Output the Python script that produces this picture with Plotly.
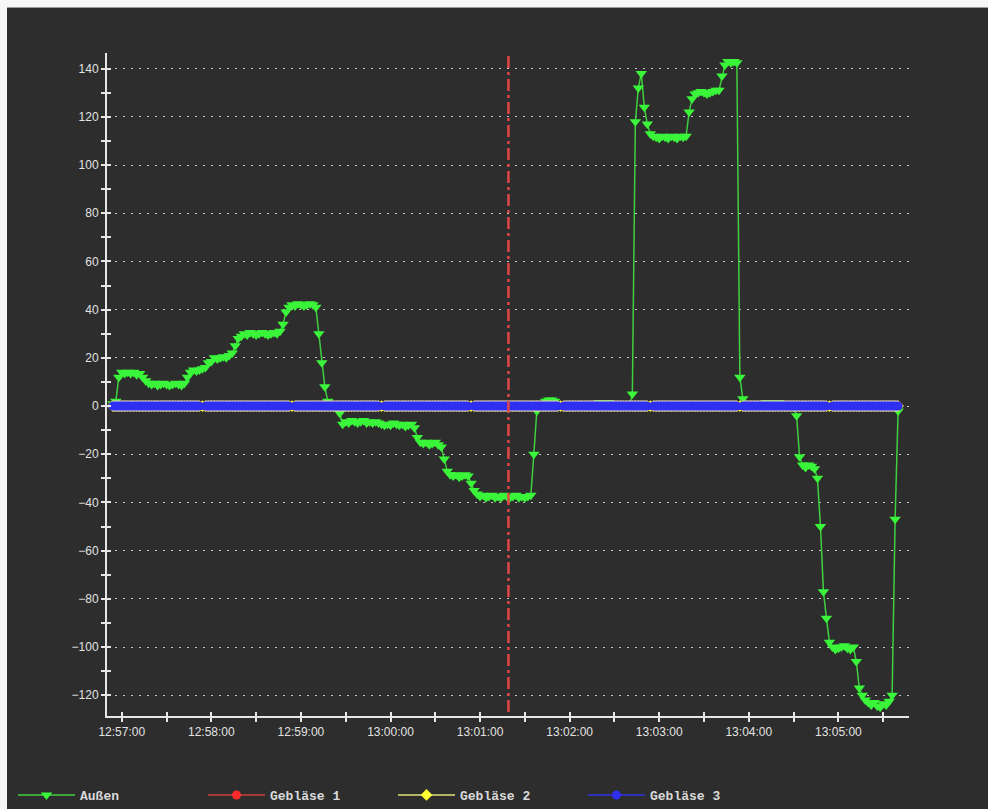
import pandas as pd
import plotly.graph_objects as go

# --- data -------------------------------------------------------------------
DAY = "2024-01-01"
START = "12:56:54"          # first sample
STEP = "2s"                 # logger sampling interval

# outside sensor (Außen), one value per sample
AUSSEN = [
    1, 2, 12, 14, 13.5, 14, 13.5, 14, 13, 13.5,
    12, 10.5, 9.5, 9, 9.5, 8.5, 9, 9.5, 9, 8.5,
    9, 9.5, 9, 8.5, 9.5, 12, 14, 15, 14.5, 15,
    15.5, 16, 18, 18.5, 20, 19.5, 20, 20.5, 20, 21,
    22, 25, 28, 29, 30, 29.5, 30.5, 30, 29.5, 30,
    30.5, 30, 29.5, 30, 30.5, 30, 31, 34, 39, 41,
    42, 41.5, 42.5, 42, 41.5, 42, 42.5, 42, 41, 30,
    18, 8, 2, 1, 0.5, 0, -3, -7.5, -6.5, -7,
    -6, -6.5, -7, -6.5, -6, -7, -6.5, -7, -6.5, -7,
    -7.5, -8, -7.5, -8, -7, -7.5, -8, -7.5, -8.5, -8,
    -7.5, -9, -13, -15, -15.5, -15, -16, -15.5, -15, -16,
    -17, -22, -27, -28.5, -29, -28.5, -29.5, -29, -28.5, -29,
    -32, -35, -36.5, -37.5, -37, -38, -37.5, -37, -38, -37.5,
    -38, -37, -37.5, -38, -37.5, -37, -38, -37.5, -38, -37.5,
    -37, -20, -2, 0, 1, 2, 2.5, 2.5, 2, 1,
    0.5, 0, 0.5, 0, 0, 0.5, 0, 0.5, 0, 0,
    0.5, 0, 1, 1.5, 1.5, 1, 1.5, 1, 0.5, 1,
    0.5, 0, 0.5, 0, 5, 118, 132, 138, 124, 117,
    113, 112, 111.5, 111, 112, 111.5, 111, 112, 111.5, 111,
    112, 111.5, 112, 122, 127.5, 129.5, 130, 130.5, 130, 129.5,
    130, 130.5, 131, 131, 137, 141.5, 143, 142.5, 143, 142.5,
    12, 3, 1, 0.5, 0, 0.5, 0, 0.5, 1, 1.5,
    1.5, 1.5, 1, 1.5, 1, 0.5, 0, 0.5, 0, -4,
    -21, -24.5, -25.5, -24.5, -25, -26, -30, -50, -77, -88,
    -98, -100, -101, -100.5, -100, -99.5, -100.5, -101, -100, -106,
    -117, -120, -122, -123, -124, -123, -124.5, -125, -123.5, -124,
    -122.5, -120, -47, -2,
]

# blowers were idle for the whole run
GEBLAESE_1 = [0.0] * len(AUSSEN)
GEBLAESE_2 = [0.0] * len(AUSSEN)
GEBLAESE_3 = [0.0] * len(AUSSEN)
# samples missing from the Gebläse 3 log (one per minute block)
GEBLAESE_3_GAPS = ["12:57:54", "12:58:54", "12:59:54", "13:00:54",
                   "13:01:54", "13:02:54", "13:03:54", "13:04:54"]

CURSOR_TIME = "13:01:19"
X_RANGE = ["12:56:50.1", "13:05:47.3"]
Y_RANGE = [-128.6, 146.5]
Y_TICKS = list(range(-120, 141, 20))

# --- figure -------------------------------------------------------------------
times = pd.date_range(f"{DAY} {START}", periods=len(AUSSEN), freq=STEP)
g3 = [None if ts.strftime("%H:%M:%S") in GEBLAESE_3_GAPS else v
      for ts, v in zip(times, GEBLAESE_3)]

W, H = 988, 809
L, R, T, B = 107, 79, 53, 93
PW, PH = W - L - R, H - T - B


def px(x):
    return (x - L) / PW


def py(y):
    return (H - B - y) / PH


BG = "#2d2d2d"
FG = "#e6e6e6"
TICKFONT = dict(family="Liberation Sans", size=12, color="#e2e2e2")

fig = go.Figure()
fig.add_trace(go.Scatter(
    x=times, y=AUSSEN, name="Außen", mode="lines+markers",
    line=dict(color="#3fcf3f", width=1.5),
    marker=dict(symbol="triangle-down", size=10, color="#3af53a", line=dict(width=0)),
))
fig.add_trace(go.Scatter(
    x=times, y=GEBLAESE_1, name="Gebläse 1", mode="lines+markers",
    line=dict(color="#d23c3c", width=1.5),
    marker=dict(symbol="circle", size=9, color="#ff2b2b", line=dict(width=0)),
))
fig.add_trace(go.Scatter(
    x=times, y=GEBLAESE_2, name="Gebläse 2", mode="lines+markers",
    line=dict(color="#e2e27a", width=1.5),
    marker=dict(symbol="diamond", size=9, color="#ffff33", line=dict(width=0)),
))
# pale rim around the Gebläse 3 band
fig.add_trace(go.Scatter(
    x=times, y=g3, mode="lines", showlegend=False, hoverinfo="skip",
    line=dict(color="#d8c6cc", width=11),
))
fig.add_trace(go.Scatter(
    x=times, y=g3, name="Gebläse 3", mode="lines+markers",
    line=dict(color="#3232e6", width=1.5),
    marker=dict(symbol="circle", size=9, color="#2f2ff2", line=dict(width=0)),
))
# second pair of axes only carries the inward half of the tick marks
fig.add_trace(go.Scatter(x=[], y=[], xaxis="x2", yaxis="y2",
                         showlegend=False, hoverinfo="skip"))

shapes = [
    # cursor
    dict(type="line", xref="x", yref="paper",
         x0=f"{DAY} {CURSOR_TIME}", x1=f"{DAY} {CURSOR_TIME}",
         y0=py(712), y1=py(52), layer="above",
         line=dict(color="#e04646", width=2.5, dash="12px,4px,3px,4px")),
    # window frame edges
    dict(type="rect", xref="paper", yref="paper", x0=px(-5), x1=px(W + 5),
         y0=py(7), y1=py(-5), fillcolor="#f6f6f6", line=dict(width=0), layer="above"),
    dict(type="rect", xref="paper", yref="paper", x0=px(-5), x1=px(7),
         y0=py(H + 5), y1=py(-5), fillcolor="#f6f6f6", line=dict(width=0), layer="above"),
    dict(type="line", xref="paper", yref="paper", x0=px(7), x1=px(W + 5),
         y0=py(7.5), y1=py(7.5), line=dict(color="#9c9c9c", width=1), layer="above"),
]

axis_common = dict(tickcolor=FG, tickwidth=1.5, ticklen=4, zeroline=False)

fig.update_layout(
    width=W, height=H,
    margin=dict(l=L, r=R, t=T, b=B, autoexpand=False),
    paper_bgcolor=BG, plot_bgcolor=BG,
    showlegend=True,
    legend=dict(orientation="h", x=px(13), xanchor="left", y=py(795), yanchor="middle",
                font=dict(family="Liberation Mono", size=13, color="#dadada", weight="bold"),
                itemwidth=57, entrywidth=118, entrywidthmode="pixels",
                bgcolor="rgba(0,0,0,0)", borderwidth=0),
    xaxis=dict(type="date", range=[f"{DAY} {X_RANGE[0]}", f"{DAY} {X_RANGE[1]}"],
               tick0=f"{DAY} 12:57:00", dtick=60000, tickformat="%H:%M:%S",
               ticks="outside", showline=True, linecolor=FG, linewidth=2,
               showgrid=False, tickfont=TICKFONT,
               minor=dict(tick0=f"{DAY} 12:57:00", dtick=30000, ticks="outside",
                          ticklen=4, tickcolor=FG, tickwidth=1.5, showgrid=False),
               **axis_common),
    yaxis=dict(range=Y_RANGE, tickvals=Y_TICKS, ticks="outside",
               showline=True, linecolor=FG, linewidth=2,
               showgrid=True, gridcolor="#c6c6c6", gridwidth=1, griddash="2px,6px",
               tickfont=TICKFONT,
               minor=dict(tick0=0, dtick=10, ticks="outside", ticklen=4,
                          tickcolor=FG, tickwidth=1.5, showgrid=False),
               **axis_common),
    xaxis2=dict(type="date", overlaying="x", anchor="y",
                range=[f"{DAY} {X_RANGE[0]}", f"{DAY} {X_RANGE[1]}"],
                tick0=f"{DAY} 12:57:00", dtick=30000, ticks="inside",
                showticklabels=False, showgrid=False, showline=False, **axis_common),
    yaxis2=dict(overlaying="y", anchor="x", side="left", range=Y_RANGE,
                tick0=0, dtick=10, ticks="inside", showticklabels=False,
                showgrid=False, showline=False, **axis_common),
    shapes=shapes,
)

fig.write_html("out.html")
